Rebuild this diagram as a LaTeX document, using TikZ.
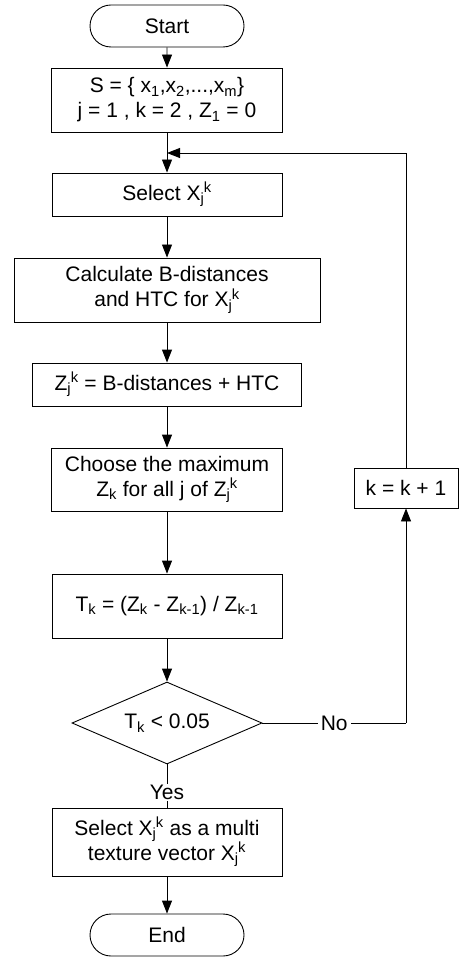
\documentclass[tikz,border=0pt]{standalone}
\usepackage{fontspec}
\setmainfont{Liberation Sans}
\usetikzlibrary{arrows.meta,shapes.misc,shapes.geometric}

\newcommand{\subsup}[2]{\textsubscript{#1}\kern-0.5pt\textsuperscript{#2}}

\tikzset{
  flowtext/.style={font=\fontsize{21}{25}\selectfont},
  procbox/.style={draw,line width=0.9pt,rectangle,inner sep=0pt,align=center,flowtext},
  termbox/.style={draw,line width=0.9pt,rounded rectangle,inner sep=0pt,minimum width=154pt,minimum height=42pt,flowtext},
  testbox/.style={draw,line width=0.9pt,diamond,aspect=2.3,inner sep=0pt,minimum width=190pt,minimum height=82pt,flowtext},
  flow/.style={line width=0.9pt,-{Triangle[length=13pt,width=10pt]}},
  plain/.style={line width=0.9pt},
  tag/.style={fill=white,inner sep=3pt,flowtext}
}

\begin{document}
\begin{tikzpicture}[x=1pt,y=-1pt]
\useasboundingbox (0,0) rectangle (461,957);

% main column
\node[termbox] (start) at (167,26) {Start};
\node[procbox,minimum width=231pt,minimum height=64pt] (init) at (167,100)
  {S = \{ x\textsubscript{1},x\textsubscript{2},...,x\textsubscript{m}\}\\ j = 1 , k = 2 , Z\textsubscript{1} = 0};
\coordinate (loop) at (167,153);
\node[procbox,minimum width=230pt,minimum height=43pt] (sel) at (167,194.5) {Select X\subsup{j}{k}};
\node[procbox,minimum width=306pt,minimum height=64pt] (calc) at (167,290)
  {Calculate B-distances\\ and HTC for X\subsup{j}{k}};
\node[procbox,minimum width=269pt,minimum height=43pt] (zval) at (167,384.5) {Z\subsup{j}{k} = B-distances + HTC};
\node[procbox,minimum width=231pt,minimum height=63pt] (maxz) at (167,479.5)
  {Choose the maximum\\ Z\textsubscript{k} for all j of Z\subsup{j}{k}};
\node[procbox,minimum width=230pt,minimum height=64pt] (tk) at (167,606)
  {T\textsubscript{k} = (Z\textsubscript{k} - Z\textsubscript{k-1}) / Z\textsubscript{k-1}};
\node[testbox] (test) at (167,723) {T\textsubscript{k} < 0.05};
\node[procbox,minimum width=230pt,minimum height=68pt] (pick) at (167,842)
  {Select X\subsup{j}{k} as a multi\\ texture vector X\subsup{j}{k}};
\node[termbox] (stop) at (167,935) {End};

% feedback branch
\node[procbox,minimum width=104pt,minimum height=40pt] (inc) at (406,488) {k = k + 1};
\coordinate (noturn) at (406,723);

\draw[flow] (start) -- (init);
\draw[plain] (init) -- (loop);
\draw[flow] (loop) -- (sel);
\draw[flow] (sel) -- (calc);
\draw[flow] (calc) -- (zval);
\draw[flow] (zval) -- (maxz);
\draw[flow] (maxz) -- (tk);
\draw[flow] (tk) -- (test);
\draw[plain] (test) -- node[tag] {No} (noturn);
\draw[flow] (noturn) -- (inc);
\draw[flow] (inc) |- (loop);
\draw[plain] (test) -- node[tag,pos=0.65,inner sep=1pt] {Yes} (pick);
\draw[flow] (pick) -- (stop);
\end{tikzpicture}
\end{document}
